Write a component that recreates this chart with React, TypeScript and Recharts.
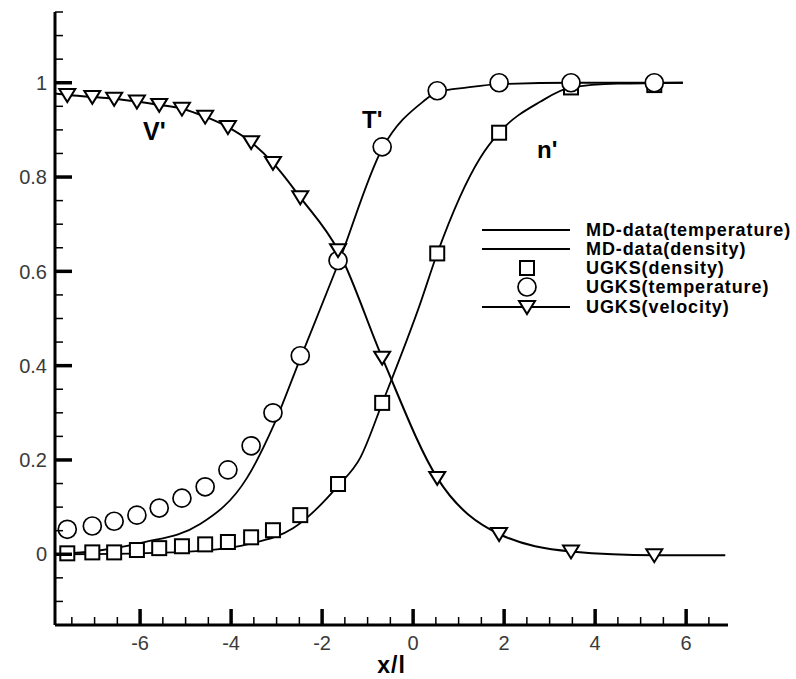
import React from 'react';
import { ComposedChart, Line, Scatter, XAxis, YAxis, Legend } from 'recharts';

// ---- data ----
const ugksX = [-7.6, -7.05, -6.57, -6.07, -5.58, -5.08, -4.57, -4.07, -3.56, -3.08, -2.48, -1.65, -0.68, 0.53, 1.89, 3.47, 5.3];
const ugksDensity = [0.002, 0.004, 0.004, 0.009, 0.013, 0.017, 0.021, 0.026, 0.036, 0.051, 0.083, 0.149, 0.321, 0.638, 0.894, 0.99, 0.995];
const ugksTemperature = [0.053, 0.06, 0.07, 0.083, 0.098, 0.119, 0.143, 0.179, 0.23, 0.3, 0.421, 0.623, 0.864, 0.983, 1.0, 1.0, 1.0];
const ugksVelocity = [0.974, 0.97, 0.966, 0.96, 0.953, 0.945, 0.928, 0.906, 0.874, 0.83, 0.757, 0.645, 0.417, 0.162, 0.043, 0.006, -0.002];

const velLineX = [-7.87, ...ugksX, 6.86];
const velLineY = [0.977, ...ugksVelocity, -0.002];

const mdTempX = [-7.87, -6.9, -5.93, -4.68, -3.65, -3.08, -2.48, -1.65, -0.68, 0.22, 0.53, 1.2, 1.89, 3.47, 5.93];
const mdTempY = [0.0, 0.008, 0.025, 0.064, 0.162, 0.27, 0.415, 0.615, 0.86, 0.96, 0.98, 0.99, 0.997, 1.0, 1.0];

const mdDensX = [-7.87, -6.07, -4.84, -3.65, -2.64, -1.65, -1.16, -0.68, 0.15, 0.53, 1.47, 1.89, 2.8, 3.47, 4.5, 5.93];
const mdDensY = [0.0, 0.002, 0.006, 0.021, 0.055, 0.145, 0.205, 0.32, 0.53, 0.638, 0.84, 0.894, 0.96, 0.99, 0.998, 1.0];

const xTicks = [-7.5, -7, -6.5, -6, -5.5, -5, -4.5, -4, -3.5, -3, -2.5, -2, -1.5, -1, -0.5, 0, 0.5, 1, 1.5, 2, 2.5, 3, 3.5, 4, 4.5, 5, 5.5, 6, 6.5];
const yTicks = [-0.15, -0.1, -0.05, 0, 0.05, 0.1, 0.15, 0.2, 0.25, 0.3, 0.35, 0.4, 0.45, 0.5, 0.55, 0.6, 0.65, 0.7, 0.75, 0.8, 0.85, 0.9, 0.95, 1, 1.05, 1.1, 1.15];
const xDomain = [-7.87, 6.92];
const yDomain = [-0.15, 1.15];

const legendLabels = ['MD-data(temperature)', 'MD-data(density)', 'UGKS(density)', 'UGKS(temperature)', 'UGKS(velocity)'];

const zip = (xs: number[], ys: number[]) => xs.map((x, i) => ({ x, y: ys[i] }));
const densityPts = zip(ugksX, ugksDensity);
const tempPts = zip(ugksX, ugksTemperature);
const velPts = zip(ugksX, ugksVelocity);
const velLine = zip(velLineX, velLineY);
const mdTemp = zip(mdTempX, mdTempY);
const mdDens = zip(mdDensX, mdDensY);

// ---- layout ----
const W = 796;
const H = 679;
const AX_X = 55;
const AX_Y = 625;
const FONT = "Arial, 'Liberation Sans', sans-serif";

const isMajorX = (v: number) => Math.abs(v / 2 - Math.round(v / 2)) < 1e-6;
const isMajorY = (v: number) => Math.abs(v * 5 - Math.round(v * 5)) < 1e-6;
const fmtY = (v: number) => {
  const r = Math.round(v * 10) / 10;
  return r === 0 ? '0' : String(r);
};

const YTick = (props: any) => {
  const { y, payload } = props;
  const v = payload.value;
  const major = isMajorY(v);
  return (
    <g>
      <line x1={AX_X} x2={AX_X + (major ? 17 : 8)} y1={y} y2={y} stroke="#000" strokeWidth={major ? 3.5 : 1.5} />
      {major && (
        <text x={AX_X - 8} y={y} dy="0.36em" textAnchor="end" fontSize={20} fontFamily={FONT} fill="#3a3a3a">
          {fmtY(v)}
        </text>
      )}
    </g>
  );
};

const XTick = (props: any) => {
  const { x, payload } = props;
  const v = payload.value;
  const major = isMajorX(v);
  return (
    <g>
      <line x1={x} x2={x} y1={AX_Y} y2={AX_Y - (major ? 16 : 8)} stroke="#000" strokeWidth={major ? 3.5 : 1.5} />
      {major && (
        <text x={x} y={AX_Y + 25} textAnchor="middle" fontSize={20} fontFamily={FONT} fill="#3a3a3a">
          {String(Math.round(v))}
        </text>
      )}
    </g>
  );
};

const Square = (p: any) => (
  <rect x={p.cx - 7} y={p.cy - 7} width={14} height={14} fill="#fff" stroke="#000" strokeWidth={2} />
);
const Circ = (p: any) => <circle cx={p.cx} cy={p.cy} r={9} fill="#fff" stroke="#000" strokeWidth={1.7} />;
const Tri = (p: any) => (
  <polygon
    points={`${p.cx - 8},${p.cy - 6} ${p.cx + 8},${p.cy - 6} ${p.cx},${p.cy + 7}`}
    fill="#fff"
    stroke="#000"
    strokeWidth={2}
    strokeLinejoin="miter"
  />
);

const LegendBox = () => {
  const rows = [12, 31, 50, 69, 89];
  return (
    <svg width={326} height={100} style={{ overflow: 'visible', display: 'block' }}>
      <line x1={12} x2={100} y1={rows[0]} y2={rows[0]} stroke="#000" strokeWidth={2} />
      <line x1={12} x2={100} y1={rows[1]} y2={rows[1]} stroke="#000" strokeWidth={2} />
      <Square cx={57} cy={rows[2]} />
      <Circ cx={57} cy={rows[3]} />
      <line x1={12} x2={100} y1={rows[4]} y2={rows[4]} stroke="#000" strokeWidth={2} />
      <Tri cx={57} cy={rows[4]} />
      {legendLabels.map((t, i) => (
        <text key={t} x={116} y={rows[i]} dy="0.36em" fontSize={18} fontWeight="bold" fontFamily={FONT} letterSpacing={0.9} fill="#000">
          {t}
        </text>
      ))}
    </svg>
  );
};

export default function App() {
  return (
    <div style={{ position: 'absolute', left: 0, top: 0, width: W, height: H, background: '#fff' }}>
      <ComposedChart width={W} height={H} margin={{ top: 12, right: W - 728, bottom: 0, left: 0 }}>
        <XAxis
          type="number"
          dataKey="x"
          domain={xDomain}
          allowDataOverflow
          ticks={xTicks}
          interval={0}
          tick={<XTick />}
          tickLine={false}
          axisLine={{ stroke: '#000', strokeWidth: 3 }}
          height={54}
          label={{ value: 'x/l', position: 'insideBottom', offset: 6, fontSize: 23, fontWeight: 'bold', fontFamily: FONT, fill: '#000', letterSpacing: 1 }}
        />
        <YAxis
          type="number"
          dataKey="y"
          domain={yDomain}
          allowDataOverflow
          ticks={yTicks}
          interval={0}
          tick={<YTick />}
          tickLine={false}
          axisLine={{ stroke: '#000', strokeWidth: 3 }}
          width={55}
        />
        <Legend
          layout="vertical"
          align="center"
          verticalAlign="middle"
          content={<LegendBox />}
          wrapperStyle={{ position: 'absolute', left: 470, top: 218, width: 326, height: 100 }}
        />
        <Line data={mdTemp} dataKey="y" type="monotone" stroke="#000" strokeWidth={1.8} dot={false} isAnimationActive={false} />
        <Line data={mdDens} dataKey="y" type="monotone" stroke="#000" strokeWidth={1.8} dot={false} isAnimationActive={false} />
        <Line data={velLine} dataKey="y" type="monotone" stroke="#000" strokeWidth={2} dot={false} isAnimationActive={false} />
        <Scatter data={densityPts} dataKey="y" shape={Square} isAnimationActive={false} />
        <Scatter data={tempPts} dataKey="y" shape={Circ} isAnimationActive={false} />
        <Scatter data={velPts} dataKey="y" shape={Tri} isAnimationActive={false} />
      </ComposedChart>
      <svg width={W} height={H} style={{ position: 'absolute', left: 0, top: 0, pointerEvents: 'none' }}>
        <text x={143} y={140} fontSize={25} fontWeight="bold" fontFamily={FONT} fill="#000">V'</text>
        <text x={362} y={128} fontSize={24} fontWeight="bold" fontFamily={FONT} fill="#000">T'</text>
        <text x={537} y={158} fontSize={24} fontWeight="bold" fontFamily={FONT} fill="#000">n'</text>
      </svg>
    </div>
  );
}
